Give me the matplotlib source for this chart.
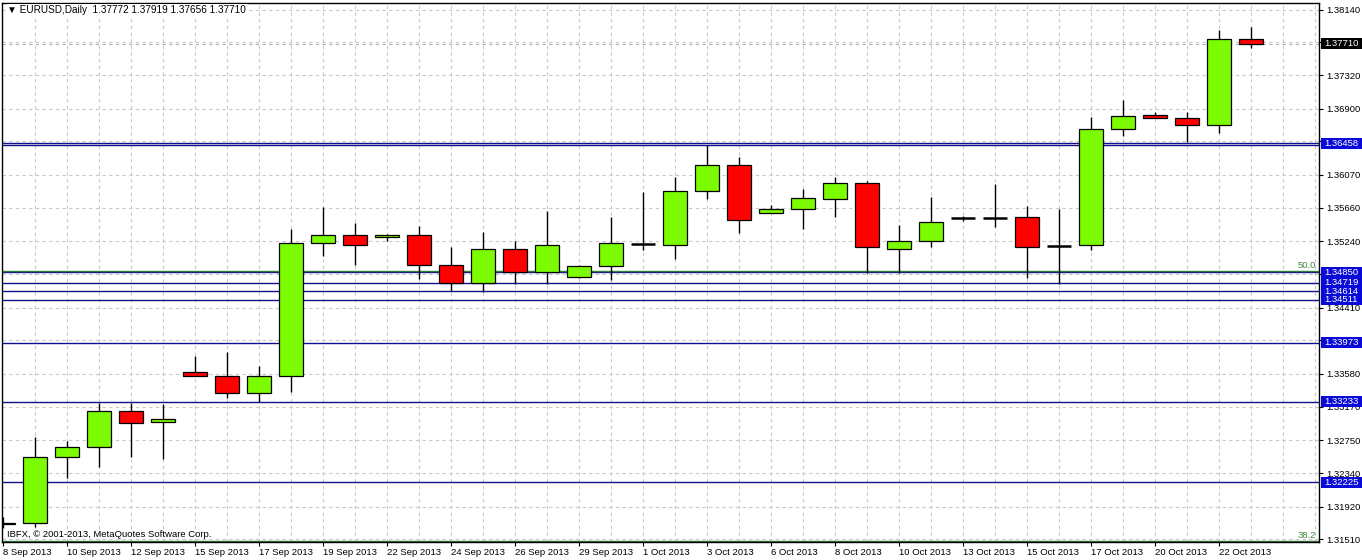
import numpy as np
import matplotlib
matplotlib.use('Agg')
import matplotlib.pyplot as plt
import matplotlib.patches as patches
from matplotlib.transforms import blended_transform_factory

plt.rcParams['font.family'] = ['Liberation Sans', 'DejaVu Sans']

# donnees EURUSD daily
dates = ['8 Sep 2013', '9 Sep 2013', '10 Sep 2013', '11 Sep 2013', '12 Sep 2013', '13 Sep 2013',
         '15 Sep 2013', '16 Sep 2013', '17 Sep 2013', '18 Sep 2013', '19 Sep 2013', '20 Sep 2013',
         '22 Sep 2013', '23 Sep 2013', '24 Sep 2013', '25 Sep 2013', '26 Sep 2013', '27 Sep 2013',
         '29 Sep 2013', '30 Sep 2013', '1 Oct 2013', '2 Oct 2013', '3 Oct 2013', '4 Oct 2013',
         '6 Oct 2013', '7 Oct 2013', '8 Oct 2013', '9 Oct 2013', '10 Oct 2013', '11 Oct 2013',
         '13 Oct 2013', '14 Oct 2013', '15 Oct 2013', '16 Oct 2013', '17 Oct 2013', '18 Oct 2013',
         '20 Oct 2013', '21 Oct 2013', '22 Oct 2013', '23 Oct 2013']
opens = [1.3170, 1.3172, 1.3254, 1.3267, 1.3312, 1.3298, 1.3361, 1.3356, 1.3334, 1.3355,
         1.3522, 1.3532, 1.3529, 1.3532, 1.3494, 1.3472, 1.3515, 1.3485, 1.3479, 1.3493,
         1.3521, 1.3520, 1.3587, 1.3620, 1.3560, 1.3565, 1.3577, 1.3597, 1.3515, 1.3524,
         1.3553, 1.3553, 1.3554, 1.3518, 1.3519, 1.3665, 1.3682, 1.3678, 1.3669, 1.37772]
highs = [1.3179, 1.3279, 1.3274, 1.3322, 1.3322, 1.3321, 1.3381, 1.3385, 1.3368, 1.3539,
         1.3567, 1.3547, 1.3533, 1.3543, 1.3517, 1.3536, 1.3524, 1.3562, 1.3494, 1.3555,
         1.3586, 1.3604, 1.3644, 1.3630, 1.3570, 1.3590, 1.3605, 1.3599, 1.3544, 1.3580,
         1.3556, 1.3596, 1.3568, 1.3565, 1.3680, 1.3701, 1.3686, 1.3686, 1.3788, 1.37919]
lows = [1.3165, 1.3167, 1.3228, 1.3242, 1.3254, 1.3252, 1.3355, 1.3328, 1.3323, 1.3336,
        1.3506, 1.3494, 1.3524, 1.3477, 1.3462, 1.3461, 1.3471, 1.3471, 1.3478, 1.3475,
        1.3513, 1.3502, 1.3577, 1.3535, 1.3559, 1.3539, 1.3554, 1.3484, 1.3484, 1.3517,
        1.3550, 1.3542, 1.3478, 1.3470, 1.3513, 1.3656, 1.3678, 1.3648, 1.3659, 1.37656]
closes = [1.3172, 1.3254, 1.3267, 1.3312, 1.3297, 1.3302, 1.3356, 1.3334, 1.3355, 1.3522,
          1.3532, 1.3520, 1.3532, 1.3494, 1.3472, 1.3515, 1.3485, 1.3519, 1.3493, 1.3522,
          1.3521, 1.3587, 1.3620, 1.3551, 1.3565, 1.3578, 1.3597, 1.3517, 1.3524, 1.3548,
          1.3553, 1.3553, 1.3517, 1.3518, 1.3665, 1.3681, 1.3678, 1.3669, 1.3777, 1.37710]

price_ticks = [1.38140, 1.37730, 1.37320, 1.36900, 1.36490, 1.36070, 1.35660, 1.35240, 1.34830,
               1.34410, 1.34000, 1.33580, 1.33170, 1.32750, 1.32340, 1.31920, 1.31510]
level_lines = [1.36475, 1.36445, 1.34850, 1.34719, 1.34614, 1.34511, 1.33973, 1.33233, 1.32225]
level_labels = [1.36458, 1.34850, 1.34719, 1.34614, 1.34511, 1.33973, 1.33233, 1.32225]
fib_levels = [1.34870, 1.31486]
fib_names = ['50.0', '38.2']
last_price = 1.37710

W, H = 1362, 560
fig = plt.figure(figsize=(W/100, H/100), dpi=100)
fig.patch.set_facecolor('white')
x0, x1, ytop, ybot = 2, 1319, 3, 541.5
ax = fig.add_axes([x0/W, 1-ybot/H, (x1-x0)/W, (ybot-ytop)/H])
ax.set_xlim((x0-3)/32., (x1-3)/32.)
ax.set_ylim(1.31484, 1.38222)

fs = 6.8
n = len(dates)
idx = np.arange(n)

# grille
for p in price_ticks:
    ax.axhline(p, color='#c8c8c8', lw=0.8, ls=(0, (3, 3)), zorder=0)
for i in range(1, 42):
    ax.axvline(i, color='#c8c8c8', lw=0.8, ls=(0, (3, 3)), zorder=0)
ax.axhline(last_price, color='#b0b0b0', lw=0.8, ls=(0, (3, 3)), zorder=0)

# lignes horizontales
for p in level_lines:
    ax.axhline(p, color='#10108a', lw=1.0, zorder=1)
for p, t in zip(fib_levels, fib_names):
    ax.axhline(p, color='#2f7d3a', lw=1.0, zorder=1)
    ax.text(0.998, p + 0.00012, t, transform=ax.get_yaxis_transform(), ha='right', va='bottom',
            fontsize=fs, color='#3c8c3c', zorder=2)

# bougies
o = np.array(opens); c = np.array(closes); hi = np.array(highs); lo = np.array(lows)
ax.vlines(idx, lo, hi, color='k', lw=1.0, zorder=2)
up = c > o
dn = c < o
dj = c == o
ax.bar(idx[up], (c - o)[up], bottom=o[up], width=0.75, color='#7cfc00', edgecolor='k', lw=0.9, zorder=3)
ax.bar(idx[dn], (o - c)[dn], bottom=c[dn], width=0.75, color='#ff0000', edgecolor='k', lw=0.9, zorder=3)
ax.hlines(c[dj], idx[dj] - 0.375, idx[dj] + 0.375, color='k', lw=1.8, zorder=3)

# axes
for s in ax.spines.values():
    s.set_color('k')
    s.set_linewidth(1.0)
ax.set_yticks(price_ticks)
ax.set_yticklabels(['%.5f' % p for p in price_ticks])
ax.yaxis.tick_right()
ax.tick_params(axis='y', direction='out', length=3, width=0.8, pad=2, labelsize=fs, colors='k')
ax.set_xticks(idx[::2])
ax.set_xticklabels(dates[::2], ha='left')
ax.tick_params(axis='x', direction='out', length=3, width=0.8, pad=2, labelsize=fs, colors='k')

# etiquettes de prix
tr = blended_transform_factory(ax.transAxes, ax.transData)
bx = (1321 - x0) / (x1 - x0)
bw = 41. / (x1 - x0)
bh = 11. / 7992
tx = (1324 - x0) / (x1 - x0)
for p in level_labels:
    ax.add_patch(patches.Rectangle((bx, p - bh/2), bw, bh, transform=tr, facecolor='#0a0ad8',
                                   edgecolor='none', clip_on=False, zorder=5))
    ax.text(tx, p, '%.5f' % p, transform=tr, ha='left', va='center', fontsize=fs,
            color='white', clip_on=False, zorder=6)
ax.add_patch(patches.Rectangle((bx, last_price - bh/2), bw, bh, transform=tr, facecolor='black',
                               edgecolor='none', clip_on=False, zorder=5))
ax.text(tx, last_price, '%.5f' % last_price, transform=tr, ha='left', va='center', fontsize=fs,
        color='white', clip_on=False, zorder=6)

# textes
ax.text(0.004, 0.996, '\u25bc EURUSD,Daily  %.5f %.5f %.5f %.5f' % (opens[-1], highs[-1], lows[-1], closes[-1]),
        transform=ax.transAxes, ha='left', va='top', fontsize=fs + 0.4, color='k', zorder=6,
        bbox=dict(facecolor='white', edgecolor='none', pad=0.5))
ax.text(0.004, 0.004, 'IBFX, \u00a9 2001-2013, MetaQuotes Software Corp.', transform=ax.transAxes,
        ha='left', va='bottom', fontsize=fs, color='k', zorder=6)

fig.savefig('out.png', dpi=100, facecolor='white')
